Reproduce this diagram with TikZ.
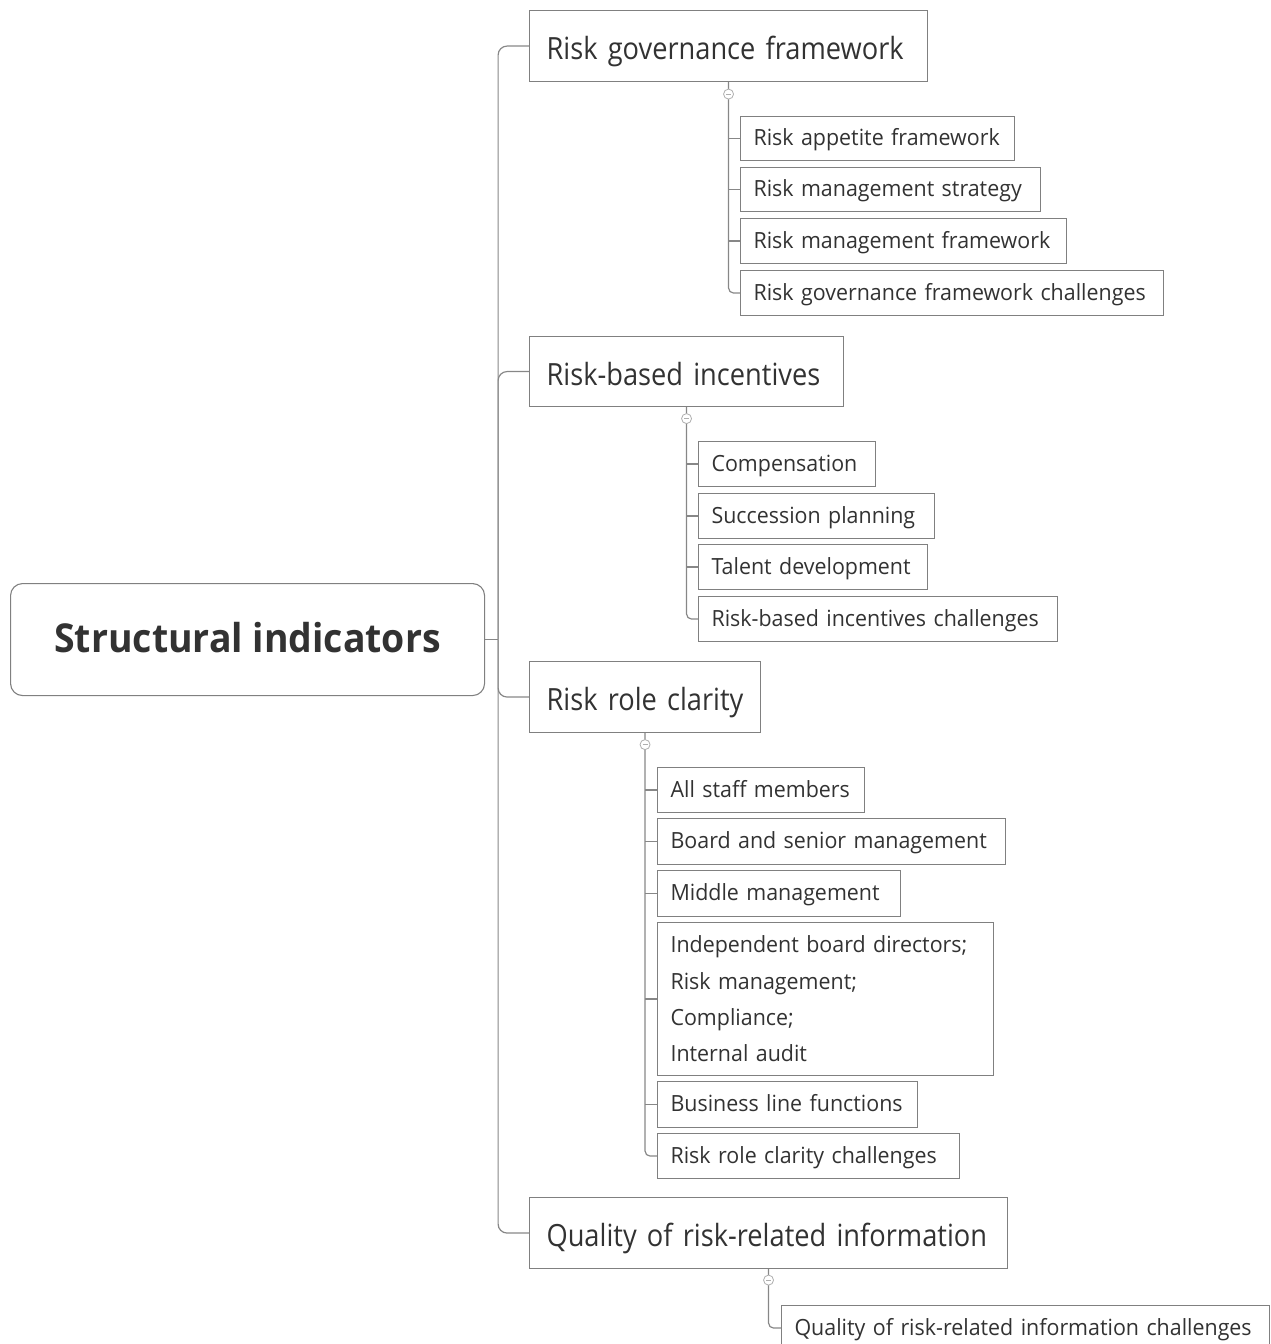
\documentclass[tikz,border=0pt]{standalone}
\usepackage{fontspec}
\setmainfont{Open Sans}
\newfontfamily\topicfont{Open Sans}[FakeStretch=0.89]
\newfontfamily\subfont{Open Sans}[FakeStretch=0.96]
\newfontfamily\rootfont{Open Sans}[FakeStretch=0.94]
\usetikzlibrary{calc}
\definecolor{edgegray}{RGB}{128,128,128}
\definecolor{linkgray}{RGB}{135,135,135}
\definecolor{inkgray}{RGB}{50,50,50}
\definecolor{foldgray}{RGB}{175,175,175}
\begin{document}
\begin{tikzpicture}[x=1pt,y=-1pt,
  base/.style={draw=edgegray, line width=1.1pt, anchor=north west, text=inkgray,
    align=left, inner ysep=0pt},
  root/.style={base, rounded corners=12pt, align=center, inner xsep=0pt,
    text height=26pt, text depth=0pt,
    font=\rootfont\fontsize{39.8}{46}\selectfont\bfseries},
  topic/.style={base, inner xsep=17pt, text height=27pt, text depth=0pt,
    font=\topicfont\fontsize{30.6}{37}\selectfont},
  sub/.style={base, inner xsep=13pt, text height=17pt, text depth=3pt,
    font=\subfont\fontsize{22.3}{36.3}\selectfont},
  link/.style={draw=linkgray, line width=1.2pt},
  fold/.style={circle, draw=foldgray, fill=white, line width=0.8pt, minimum size=10pt,
    inner sep=0pt, path picture={\draw[foldgray, line width=0.8pt]
      ([xshift=-2.5pt]path picture bounding box.center) -- ++(5pt,0);}}
]
\useasboundingbox (0,0) rectangle (1271,1344);
\clip (0,0) rectangle (1271,1344);

% central topic
\node[root, minimum width=474, minimum height=112] (root) at (10,583) {Structural indicators};

% main topics
\node[topic, text width=364pt, minimum height=71] (rgf) at (529,10) {\mbox{Risk governance framework}};
\node[topic, text width=280pt, minimum height=70] (rbi) at (529,336) {\mbox{Risk-based incentives}};
\node[topic, text width=197pt, minimum height=71] (rrc) at (529,661) {\mbox{Risk role clarity}};
\node[topic, text width=444pt, minimum height=71] (qri) at (529,1197) {\mbox{Quality of risk-related information}};

% subtopics of the risk governance framework
\node[sub, text width=248pt, minimum height=44] (a1) at (740,116) {\mbox{Risk appetite framework}};
\node[sub, text width=274pt, minimum height=44] (a2) at (740,167) {\mbox{Risk management strategy}};
\node[sub, text width=300pt, minimum height=45] (a3) at (740,218) {\mbox{Risk management framework}};
\node[sub, text width=397pt, minimum height=45] (a4) at (740,270) {\mbox{Risk governance framework challenges}};

% subtopics of the risk-based incentives
\node[sub, text width=151pt, minimum height=45] (b1) at (698,441) {\mbox{Compensation}};
\node[sub, text width=210pt, minimum height=45] (b2) at (698,493) {\mbox{Succession planning}};
\node[sub, text width=203pt, minimum height=45] (b3) at (698,544) {\mbox{Talent development}};
\node[sub, text width=333pt, minimum height=45] (b4) at (698,596) {\mbox{Risk-based incentives challenges}};

% subtopics of the risk role clarity
\node[sub, text width=181pt, minimum height=45] (c1) at (657,767) {\mbox{All staff members}};
\node[sub, text width=322pt, minimum height=46] (c2) at (657,818) {\mbox{Board and senior management}};
\node[sub, text width=217pt, minimum height=46] (c3) at (657,870) {\mbox{Middle management}};
\node[sub, text width=310pt, minimum height=153, text height=, text depth=] (c4) at (657,922)
  {\mbox{Independent board directors;}\\\mbox{Risk management;}\\Compliance;\\\mbox{Internal audit}};
\node[sub, text width=234pt, minimum height=46] (c5) at (657,1081) {\mbox{Business line functions}};
\node[sub, text width=276pt, minimum height=45] (c6) at (657,1133) {\mbox{Risk role clarity challenges}};

% subtopic of the quality of risk-related information
\node[sub, text width=462pt, minimum height=45] (d1) at (781,1305) {\mbox{Quality of risk-related information challenges}};

% trunk from the central topic
\coordinate (hub) at ($(root.east)+(13,0)$);
\draw[link] (root.east) -- (hub);
\foreach \t in {rgf,rbi,rrc,qri}
  \draw[link, rounded corners=9pt] (hub) |- (\t.west);

% branches to the subtopics
\draw[link, rounded corners=5pt] (rgf.south) |- (a4.west);
\foreach \s in {a1,a2,a3} \draw[link] (rgf.south |- \s.west) -- (\s.west);

\draw[link, rounded corners=5pt] (rbi.south) |- (b4.west);
\foreach \s in {b1,b2,b3} \draw[link] (rbi.south |- \s.west) -- (\s.west);

\draw[link, rounded corners=5pt] (rrc.south) |- (c6.west);
\foreach \s in {c1,c2,c3,c4,c5} \draw[link] (rrc.south |- \s.west) -- (\s.west);

\draw[link, rounded corners=5pt] (qri.south) |- (d1.west);

% collapse markers
\node[fold] (rgff) at ([yshift=-12pt]rgf.south) {};
\node[fold] (rbif) at ([yshift=-11.5pt]rbi.south) {};
\node[fold] (rrcf) at ([yshift=-11.5pt]rrc.south) {};
\node[fold] (qrif) at ([yshift=-11pt]qri.south) {};
\end{tikzpicture}
\end{document}
